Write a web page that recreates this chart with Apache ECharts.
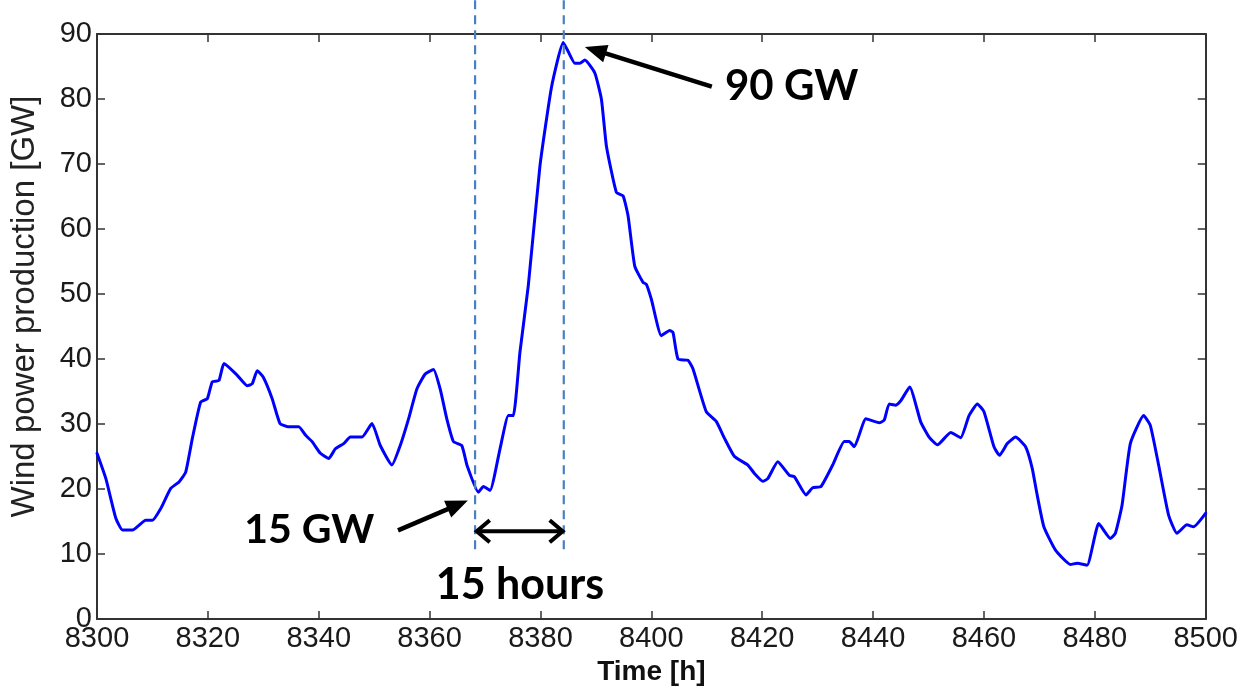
<!DOCTYPE html>
<html>
<head>
<meta charset="utf-8">
<script src="https://cdn.jsdelivr.net/npm/echarts@6/dist/echarts.min.js"></script>
<style>html,body{margin:0;padding:0;background:#fff}#c{width:1241px;height:691px}</style>
</head>
<body>
<div id="c"></div>
<script>
// Time axis (hours) and wind power production (GW)
const hours = [8300.0,8301.6,8303.4,8304.6,8306.4,8308.8,8310.0,8311.5,8313.3,8314.8,8316.0,8317.2,8318.7,8319.9,8320.8,8322.0,8322.9,8325.3,8327.1,8328.0,8328.9,8330.0,8331.6,8333.0,8334.4,8336.4,8337.6,8338.8,8340.3,8341.8,8343.0,8344.5,8345.7,8347.8,8349.6,8351.1,8353.2,8354.7,8356.2,8357.7,8359.2,8360.7,8361.9,8363.1,8364.3,8365.8,8366.8,8368.8,8369.7,8370.9,8372.7,8374.2,8375.1,8376.3,8377.8,8379.9,8382.0,8384.1,8385.0,8386.2,8387.1,8388.0,8389.8,8391.0,8391.9,8393.7,8394.9,8395.8,8397.0,8398.5,8399.1,8400.0,8401.8,8403.3,8403.9,8404.8,8406.6,8407.5,8409.9,8411.7,8413.2,8415.0,8417.4,8418.6,8420.1,8421.0,8422.8,8424.9,8425.8,8427.9,8429.1,8430.6,8432.7,8434.8,8435.7,8436.6,8438.7,8441.1,8442.0,8442.9,8444.1,8445.0,8446.6,8448.6,8450.1,8451.6,8454.0,8455.8,8457.3,8458.8,8460.0,8461.8,8462.8,8464.2,8465.7,8467.5,8468.7,8469.5,8470.8,8472.9,8475.6,8476.8,8478.6,8480.7,8482.8,8483.7,8484.9,8486.4,8488.8,8490.0,8491.5,8493.3,8494.8,8496.6,8497.8,8500.0];
const windGW = [25.5,21.6,15.5,13.7,13.7,15.2,15.2,17.0,20.1,21.1,22.6,27.8,33.4,33.9,36.5,36.7,39.3,37.5,35.9,36.2,38.2,37.2,33.9,30.1,29.6,29.6,28.3,27.3,25.5,24.7,26.2,27.0,28.0,28.0,30.1,26.7,23.7,26.7,30.8,35.4,37.7,38.4,35.4,30.8,27.3,26.7,23.5,19.5,20.4,19.8,26.2,31.3,31.3,41.1,51.3,69.7,81.9,88.7,87.3,85.5,85.5,86.0,84.0,79.9,72.7,65.6,65.1,62.0,54.3,51.8,51.5,49.2,43.6,44.4,44.1,40.0,39.8,38.5,31.9,30.4,27.8,25.0,23.7,22.4,21.2,21.6,24.2,22.1,21.9,19.1,20.2,20.4,23.7,27.3,27.3,26.5,30.8,30.2,30.6,33.1,32.9,33.6,35.7,30.3,28.0,26.8,28.7,27.9,31.3,33.1,31.9,26.5,25.2,27.0,28.0,26.5,23.2,19.5,14.2,10.6,8.4,8.6,8.3,14.7,12.4,13.2,17.5,27.0,31.3,29.8,23.7,16.0,13.2,14.5,14.2,16.3];

// Axis ticks
const xMin = 8300, xMax = 8500, xStep = 20;
const yMin = 0, yMax = 90, yStep = 10;
const xTitle = 'Time [h]';
const yTitle = 'Wind power production [GW]';

// Annotations (data units): [x1, y1, x2, y2, kind]  kind 0 = dashed guide, 1 = arrow, 2 = double arrow
const guideLines = [
  [8368.2, 95.2, 8368.2, 10.1, 0],
  [8384.2, 95.2, 8384.2, 10.1, 0]
];
const arrows = [
  [8410.9, 81.9, 8388.0, 88.0, 1],
  [8354.3, 13.65, 8366.9, 18.25, 1],
  [8368.5, 13.5, 8384.0, 13.5, 2]
];
const noteTexts = ['90 GW', '15 GW', '15 hours'];
const notePos = [
  [8425.3, 81.9],
  [8338.3, 13.7],
  [8376.3, 5.3]
];
const noteSizes = [42, 41, 43];

const chart = echarts.init(document.getElementById('c'), null, {renderer: 'canvas'});
const axisFont = {fontFamily: 'Liberation Sans', fontSize: 29, color: '#1a1a1a'};
const lineStyleAxis = {color: '#333', width: 2};

function renderAnnot(params, api) {
  const p1 = api.coord([api.value(0), api.value(1)]);
  const p2 = api.coord([api.value(2), api.value(3)]);
  const kind = api.value(4);
  if (kind === 0) {
    return {type: 'line', shape: {x1: p1[0], y1: p1[1], x2: p2[0], y2: p2[1]},
      style: {stroke: '#4a7fc1', lineWidth: 2.2, lineDash: [9, 6]}};
  }
  const dx = p2[0] - p1[0], dy = p2[1] - p1[1];
  const len = Math.sqrt(dx * dx + dy * dy);
  const ux = dx / len, uy = dy / len;
  const nx = -uy, ny = ux;
  if (kind === 1) {
    const L = 22, W = 18;
    const bx = p2[0] - ux * L, by = p2[1] - uy * L;
    return {type: 'group', children: [
      {type: 'line', shape: {x1: p1[0], y1: p1[1], x2: bx + ux * 2, y2: by + uy * 2},
        style: {stroke: '#000', lineWidth: 4.5}},
      {type: 'polygon', shape: {points: [[p2[0], p2[1]], [bx + nx * W / 2, by + ny * W / 2], [bx - nx * W / 2, by - ny * W / 2]]},
        style: {fill: '#000'}}
    ]};
  }
  const L = 13, W = 22;
  const chev = (tx, ty, sx, sy) => ({type: 'polyline',
    shape: {points: [[tx - sx * L + nx * W / 2, ty - sy * L + ny * W / 2], [tx, ty], [tx - sx * L - nx * W / 2, ty - sy * L - ny * W / 2]]},
    style: {stroke: '#000', lineWidth: 4, fill: null, lineJoin: 'miter'}});
  return {type: 'group', children: [
    {type: 'line', shape: {x1: p1[0] + ux * 2, y1: p1[1], x2: p2[0] - ux * 2, y2: p2[1]}, style: {stroke: '#000', lineWidth: 4}},
    chev(p2[0], p2[1], ux, uy),
    chev(p1[0], p1[1], -ux, -uy)
  ]};
}

function renderText(params, api) {
  const p = api.coord([api.value(0), api.value(1)]);
  return {type: 'text', x: p[0], y: p[1],
    style: {text: noteTexts[params.dataIndex], fontFamily: 'Lato', fontWeight: 'bold', fontSize: noteSizes[params.dataIndex],
      fill: '#000', align: 'center', verticalAlign: 'middle'}};
}

const option = {
  animation: false,
  backgroundColor: '#fff',
  grid: {left: 96.4, right: 34.4, top: 34, bottom: 70, containLabel: false},
  xAxis: [{
    type: 'value', min: xMin, max: xMax, interval: xStep, position: 'bottom',
    name: xTitle, nameLocation: 'middle', nameGap: 38,
    nameTextStyle: {fontFamily: 'Liberation Sans', fontWeight: 'bold', fontSize: 28, color: '#111'},
    axisLine: {show: true, onZero: false, lineStyle: lineStyleAxis},
    axisTick: {show: true, inside: true, length: 8, lineStyle: {color: '#333', width: 1.5}},
    axisLabel: Object.assign({margin: 5, formatter: v => String(v)}, axisFont),
    splitLine: {show: false}
  }, {
    type: 'value', min: xMin, max: xMax, interval: xStep, position: 'top',
    axisLine: {show: true, onZero: false, lineStyle: lineStyleAxis},
    axisTick: {show: true, inside: true, length: 8, lineStyle: {color: '#333', width: 1.5}},
    axisLabel: {show: false}, splitLine: {show: false}
  }],
  yAxis: [{
    type: 'value', min: yMin, max: yMax, interval: yStep, position: 'left',
    name: yTitle, nameLocation: 'middle', nameGap: 56,
    nameTextStyle: {fontFamily: 'Liberation Sans', fontSize: 33, color: '#222', padding: [0, 0, 0, 40]},
    axisLine: {show: true, onZero: false, lineStyle: lineStyleAxis},
    axisTick: {show: true, inside: true, length: 8, lineStyle: {color: '#333', width: 1.5}},
    axisLabel: Object.assign({margin: 5}, axisFont),
    splitLine: {show: false}
  }, {
    type: 'value', min: yMin, max: yMax, interval: yStep, position: 'right',
    axisLine: {show: true, onZero: false, lineStyle: lineStyleAxis},
    axisTick: {show: true, inside: true, length: 8, lineStyle: {color: '#333', width: 1.5}},
    axisLabel: {show: false}, splitLine: {show: false}
  }],
  series: [{
    type: 'line', xAxisIndex: 0, yAxisIndex: 0,
    data: hours.map((h, i) => [h, windGW[i]]),
    showSymbol: false, smooth: 0.15,
    lineStyle: {color: '#0000ff', width: 3, join: 'round', cap: 'round'}, z: 3
  }, {
    type: 'custom', xAxisIndex: 0, yAxisIndex: 0, clip: false,
    data: guideLines.concat(arrows), renderItem: renderAnnot, z: 4, silent: true
  }, {
    type: 'custom', xAxisIndex: 0, yAxisIndex: 0, clip: false,
    data: notePos, renderItem: renderText, z: 5, silent: true
  }]
};
chart.setOption(option);
</script>
</body>
</html>
